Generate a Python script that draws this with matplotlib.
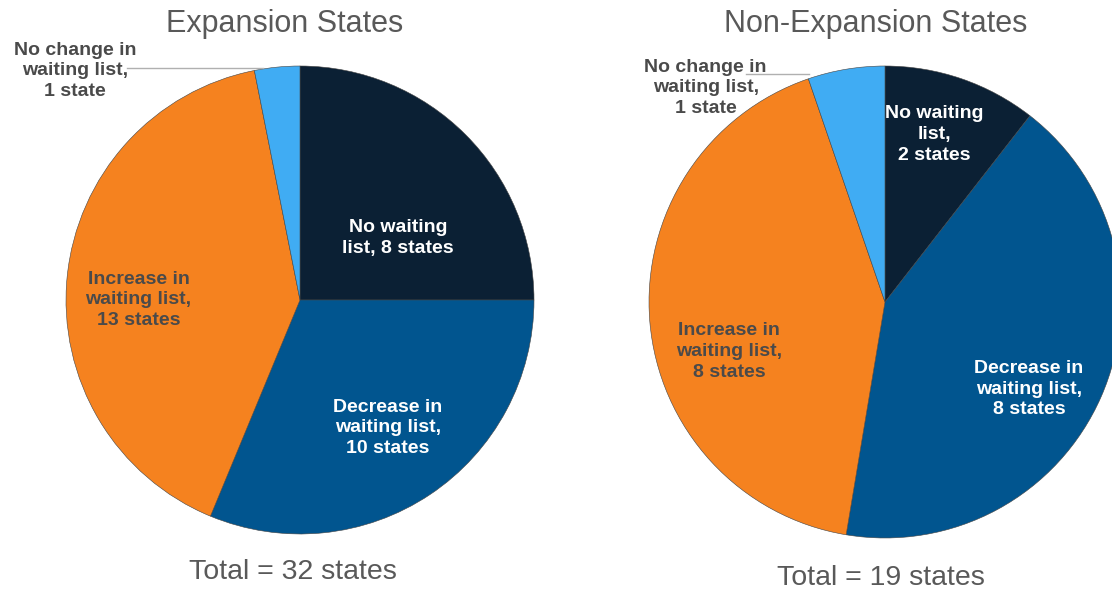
import matplotlib.pyplot as plt

plt.rcParams['font.family'] = ['Liberation Sans', 'DejaVu Sans']

# slice order, clockwise from 12 o'clock
categories = ["No waiting list", "Decrease in waiting list",
              "Increase in waiting list", "No change in waiting list"]
expansion = [8, 10, 13, 1]
non_expansion = [2, 8, 8, 1]
colors = ["#0b2034", "#01558f", "#f5821f", "#40acf3"]

exp_labels = ["No waiting\nlist, 8 states",
              "Decrease in\nwaiting list,\n10 states",
              "Increase in\nwaiting list,\n13 states",
              "No change in\nwaiting list,\n1 state"]
non_labels = ["No waiting\nlist,\n2 states",
              "Decrease in\nwaiting list,\n8 states",
              "Increase in\nwaiting list,\n8 states",
              "No change in\nwaiting list,\n1 state"]

W, H = 1112, 591
fig = plt.figure(figsize=(W / 100, H / 100), dpi=100)
fig.patch.set_facecolor("white")


def pie_axes(cx, cy, r):
    # axes box in figure fractions from a pixel center / radius
    return fig.add_axes([(cx - r) / W, (H - cy - r) / H, 2 * r / W, 2 * r / H])


def draw(ax, values, labels, label_pos, text_colors, note_line):
    ax.pie(values, colors=colors, startangle=90, counterclock=False,
           radius=1, wedgeprops=dict(edgecolor="#444444", linewidth=0.4))
    ax.set_xlim(-1, 1)
    ax.set_ylim(-1, 1)
    ax.set_aspect("equal")
    ax.axis("off")
    for lab, (x, y), c in zip(labels, label_pos, text_colors):
        ax.text(x, y, lab, ha="center", va="center", fontsize=14,
                fontweight="bold", color=c, linespacing=1.28, clip_on=False)
    (x0, x1), y = note_line
    ax.plot([x0, x1], [y, y], color="#b0b0b0", lw=1, clip_on=False)


txt = ["white", "white", "#4a4a4a", "#4a4a4a"]

ax1 = pie_axes(300, 300, 234)
draw(ax1, expansion, exp_labels,
     [(0.42, 0.265), (0.376, -0.547), (-0.69, 0.0), (-0.96, 0.98)],
     txt, ((-0.74, -0.16), 0.99))

ax2 = pie_axes(885, 302, 236)
draw(ax2, non_expansion, non_labels,
     [(0.21, 0.71), (0.61, -0.37), (-0.66, -0.21), (-0.76, 0.907)],
     txt, ((-0.59, -0.32), 0.965))

grey = "#595959"
fig.text(285 / W, 1 - 24 / H, "Expansion States", ha="center", va="center",
         fontsize=22, color=grey)
fig.text(876 / W, 1 - 24 / H, "Non-Expansion States", ha="center",
         va="center", fontsize=22, color=grey)
fig.text(293 / W, 1 - 572 / H, "Total = 32 states", ha="center", va="center",
         fontsize=20.5, color=grey)
fig.text(881 / W, 1 - 578 / H, "Total = 19 states", ha="center", va="center",
         fontsize=20.5, color=grey)

fig.savefig("out.png", dpi=100, facecolor="white")
